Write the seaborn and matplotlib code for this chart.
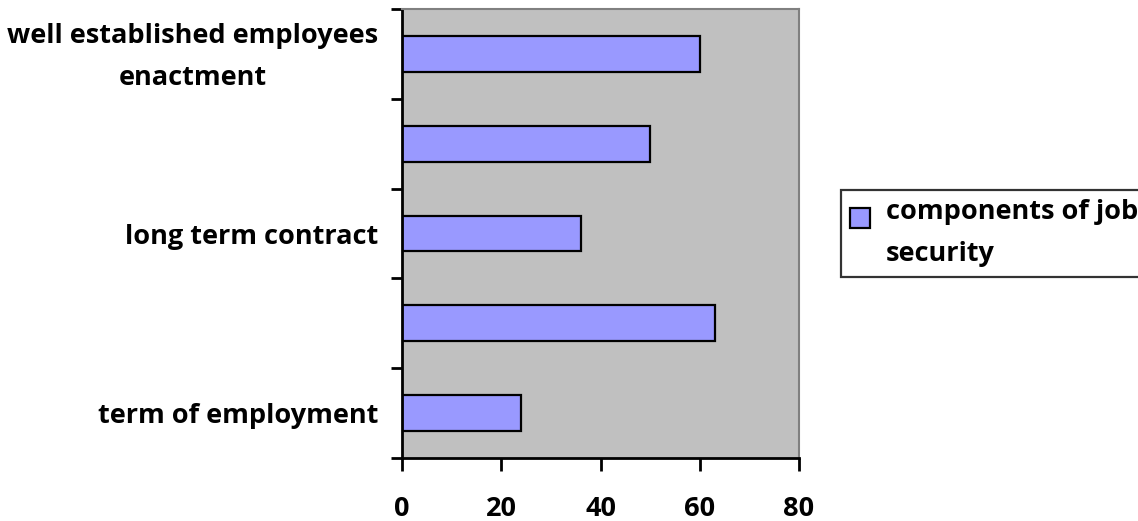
import matplotlib
matplotlib.use("Agg")
import matplotlib.pyplot as plt
import matplotlib.transforms as mtransforms
import seaborn as sns
import pandas as pd
from matplotlib.ticker import FixedLocator
from matplotlib.patches import Rectangle
from matplotlib.container import BarContainer
from matplotlib.legend_handler import HandlerPatch, update_from_first_child

# Data (top to bottom as displayed)
categories = ["well established employees\nenactment", "category 4", "long term contract",
              "category 2", "term of employment"]
values = [60, 50, 36, 63, 24]
tick_labels = ["well established employees\nenactment", "", "long term contract", "", "term of employment"]
series_name = "components of job\nsecurity"
x_ticks = [0, 20, 40, 60, 80]

sns.set_theme(style="white")
plt.rcParams['font.family'] = ['Open Sans', 'DejaVu Sans']
plt.rcParams['font.weight'] = 'bold'
plt.rcParams['text.color'] = 'black'
plt.rcParams['xtick.labelcolor'] = 'black'
plt.rcParams['ytick.labelcolor'] = 'black'

FS = 19.5

df = pd.DataFrame({"category": categories, "value": values})

fig = plt.figure(figsize=(11.38, 5.21), dpi=100)
ax = fig.add_axes([402/1138, 1 - 458/521, (799-402)/1138, (458-9)/521])
ax.set_facecolor("#C0C0C0")

sns.barplot(data=df, y="category", x="value", order=categories, orient="h",
            color="#9999FF", width=0.4, edgecolor="black", linewidth=1.6,
            saturation=1, ax=ax, label=series_name)

ax.set_xlim(0, 80)
ax.set_ylim(4.5, -0.5)
ax.set_xlabel("")
ax.set_ylabel("")

ax.set_xticks(x_ticks)
ax.set_xticklabels([str(t) for t in x_ticks], fontsize=FS, fontweight="bold", color="black")
ax.set_yticks(range(len(categories)))
ax.set_yticklabels(tick_labels, fontsize=FS, fontweight="bold", multialignment="center",
                   linespacing=1.8, color="black")
ax.yaxis.set_minor_locator(FixedLocator([-0.5, 0.5, 1.5, 2.5, 3.5, 4.5]))
ax.tick_params(axis="y", which="major", length=0, pad=17)
ax.tick_params(axis="y", which="minor", length=8, width=2, color="black", direction="out", left=True)
ax.tick_params(axis="x", which="major", length=9, width=2, color="black", direction="out", bottom=True, pad=18)

# multi-line label: centre the block on its tick
for lab in ax.get_yticklabels():
    if "\n" in lab.get_text():
        lab.set_verticalalignment("center")
        lab.set_transform(lab.get_transform() +
                          mtransforms.ScaledTranslation(0, -3 / 100, fig.dpi_scale_trans))

for s in ["left", "bottom"]:
    ax.spines[s].set_color("black")
    ax.spines[s].set_linewidth(2)
for s in ["top", "right"]:
    ax.spines[s].set_visible(True)
    ax.spines[s].set_color("#808080")
    ax.spines[s].set_linewidth(1.5)


def first_line_square(legend, orig_handle, xdescent, ydescent, width, height, fontsize):
    size = 20 * 72 / 100  # points
    return Rectangle((-xdescent, -ydescent + 12), size, size)


handler = HandlerPatch(patch_func=first_line_square, update_func=update_from_first_child)

handles, labels = ax.get_legend_handles_labels()
if ax.get_legend() is not None:
    ax.get_legend().remove()
leg = fig.legend(handles, labels, loc="upper left", bbox_to_anchor=(841/1138, 1 - 190/521),
                 frameon=True, fancybox=False, edgecolor="black", facecolor="white",
                 prop={"size": FS, "weight": "bold"}, handlelength=0.8, handleheight=0.8,
                 handletextpad=0.5, borderpad=0.35, borderaxespad=0,
                 handler_map={BarContainer: handler, Rectangle: handler})
leg.get_frame().set_linewidth(1.6)
for t in leg.get_texts():
    t.set_linespacing(1.8)
    t.set_color("black")

fig.savefig("out.png", dpi=100)
